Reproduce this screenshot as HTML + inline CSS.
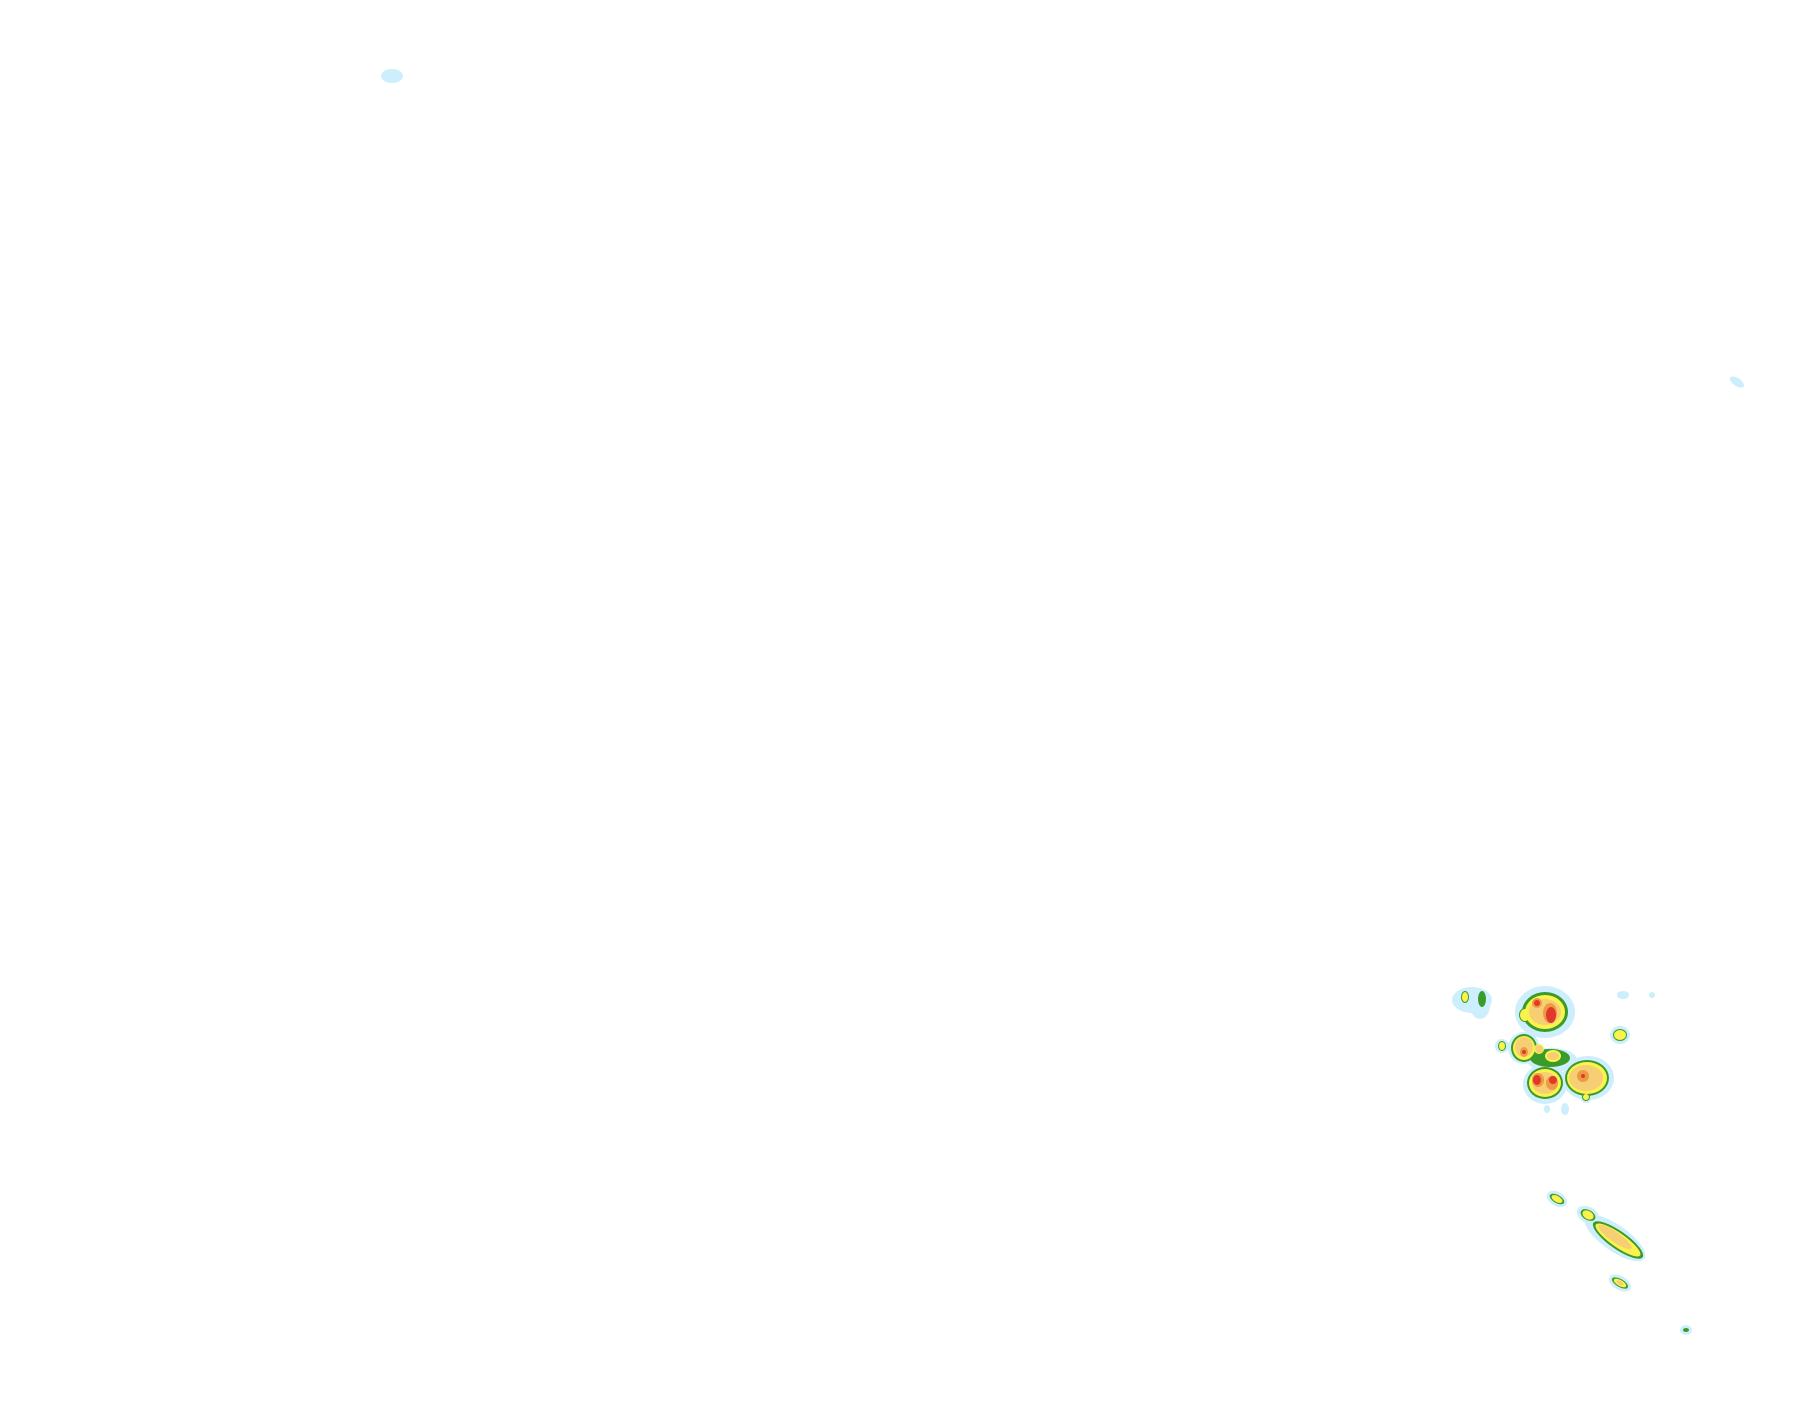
<!DOCTYPE html>
<html><head><meta charset="utf-8"><style>html,body{margin:0;padding:0;background:#fff}svg{display:block}</style></head>
<body>
<svg width="1815" height="1424" viewBox="0 0 1815 1424" xmlns="http://www.w3.org/2000/svg">
<rect width="1815" height="1424" fill="#fff"/>
<g fill="#cdeefc">
<ellipse cx="392" cy="76" rx="11" ry="7"/>
<ellipse cx="1737" cy="382" rx="8" ry="4" transform="rotate(35 1737 382)"/>
<!-- halos -->
<ellipse cx="1545" cy="1012" rx="30" ry="26"/>
<ellipse cx="1472" cy="1000" rx="20" ry="13"/>
<ellipse cx="1480" cy="1005" rx="10" ry="14"/>
<ellipse cx="1620" cy="1035" rx="10" ry="9"/>
<ellipse cx="1623" cy="995" rx="6" ry="4"/>
<ellipse cx="1652" cy="995" rx="3" ry="3"/>
<ellipse cx="1502" cy="1046" rx="7" ry="7"/>
<ellipse cx="1524" cy="1048" rx="16" ry="16"/>
<ellipse cx="1552" cy="1060" rx="25" ry="12"/>
<ellipse cx="1545" cy="1084" rx="22" ry="20"/>
<ellipse cx="1588" cy="1078" rx="26" ry="22"/>
<ellipse cx="1586" cy="1097" rx="6" ry="6"/>
<ellipse cx="1547" cy="1109" rx="3" ry="4"/>
<ellipse cx="1565" cy="1109" rx="4" ry="6"/>
<ellipse cx="1557" cy="1199" rx="11" ry="7" transform="rotate(30 1557 1199)"/>
<ellipse cx="1588" cy="1215" rx="12" ry="8" transform="rotate(30 1588 1215)"/>
<ellipse cx="1615" cy="1238" rx="36" ry="13" transform="rotate(35 1615 1238)"/>
<ellipse cx="1620" cy="1283" rx="12" ry="7" transform="rotate(30 1620 1283)"/>
<ellipse cx="1686" cy="1330" rx="6" ry="5"/>
</g>
<g fill="#3a9a2a">
<ellipse cx="1545" cy="1012" rx="23" ry="20"/>
<ellipse cx="1465" cy="997" rx="4" ry="6"/>
<ellipse cx="1482" cy="999" rx="4" ry="8"/>
<ellipse cx="1525" cy="1015" rx="6" ry="7"/>
<ellipse cx="1620" cy="1035" rx="7" ry="6"/>
<ellipse cx="1502" cy="1046" rx="4" ry="5"/>
<ellipse cx="1524" cy="1048" rx="13" ry="14"/>
<ellipse cx="1550" cy="1058" rx="20" ry="9"/>
<ellipse cx="1545" cy="1083" rx="18" ry="16"/>
<ellipse cx="1587" cy="1078" rx="22" ry="18"/>
<ellipse cx="1586" cy="1097" rx="4" ry="4"/>
<ellipse cx="1557" cy="1199" rx="8" ry="4" transform="rotate(30 1557 1199)"/>
<ellipse cx="1588" cy="1215" rx="8" ry="5" transform="rotate(30 1588 1215)"/>
<ellipse cx="1618" cy="1240" rx="30" ry="9" transform="rotate(35 1618 1240)"/>
<ellipse cx="1620" cy="1283" rx="9" ry="4" transform="rotate(30 1620 1283)"/>
<ellipse cx="1686" cy="1330" rx="3" ry="2"/>
</g>
<g fill="#fbf24e">
<ellipse cx="1545" cy="1012" rx="20" ry="17"/>
<ellipse cx="1465" cy="997" rx="3" ry="5"/>
<ellipse cx="1525" cy="1015" rx="5" ry="6"/>
<ellipse cx="1620" cy="1035" rx="6" ry="5"/>
<ellipse cx="1502" cy="1046" rx="3" ry="4"/>
<ellipse cx="1524" cy="1048" rx="11" ry="12"/>
<ellipse cx="1539" cy="1049" rx="5" ry="5"/>
<ellipse cx="1553" cy="1056" rx="8" ry="6"/>
<ellipse cx="1545" cy="1083" rx="16" ry="14"/>
<ellipse cx="1587" cy="1078" rx="20" ry="16"/>
<ellipse cx="1586" cy="1097" rx="3" ry="3"/>
<ellipse cx="1557" cy="1199" rx="6" ry="3" transform="rotate(30 1557 1199)"/>
<ellipse cx="1588" cy="1215" rx="6" ry="4" transform="rotate(30 1588 1215)"/>
<ellipse cx="1618" cy="1240" rx="27" ry="7" transform="rotate(35 1618 1240)"/>
<ellipse cx="1620" cy="1283" rx="7" ry="3" transform="rotate(30 1620 1283)"/>
</g>
<g fill="#f6cf74">
<ellipse cx="1545" cy="1012" rx="16" ry="13"/>
<ellipse cx="1524" cy="1047" rx="9" ry="10"/>
<ellipse cx="1539" cy="1049" rx="4" ry="4"/>
<ellipse cx="1553" cy="1056" rx="6" ry="4"/>
<ellipse cx="1545" cy="1083" rx="13" ry="11"/>
<ellipse cx="1586" cy="1078" rx="17" ry="13"/>
<ellipse cx="1615" cy="1237" rx="20" ry="5" transform="rotate(35 1615 1237)"/>
<ellipse cx="1620" cy="1283" rx="4" ry="2" transform="rotate(30 1620 1283)"/>
</g>
<g fill="#ed9a45">
<ellipse cx="1550" cy="1013" rx="7" ry="10"/>
<ellipse cx="1537" cy="1003" rx="5" ry="5"/>
<ellipse cx="1524" cy="1052" rx="4" ry="5"/>
<ellipse cx="1538" cy="1080" rx="6" ry="7"/>
<ellipse cx="1552" cy="1083" rx="6" ry="7"/>
<ellipse cx="1583" cy="1076" rx="6" ry="6"/>
</g>
<g fill="#e0392a">
<ellipse cx="1551" cy="1015" rx="5" ry="8"/>
<ellipse cx="1537" cy="1003" rx="3" ry="3"/>
<ellipse cx="1524" cy="1052" rx="2" ry="2"/>
<ellipse cx="1537" cy="1080" rx="4" ry="5"/>
<ellipse cx="1553" cy="1080" rx="4" ry="4"/>
<ellipse cx="1583" cy="1076" rx="2" ry="2"/>
</g>
</svg>
</body></html>
